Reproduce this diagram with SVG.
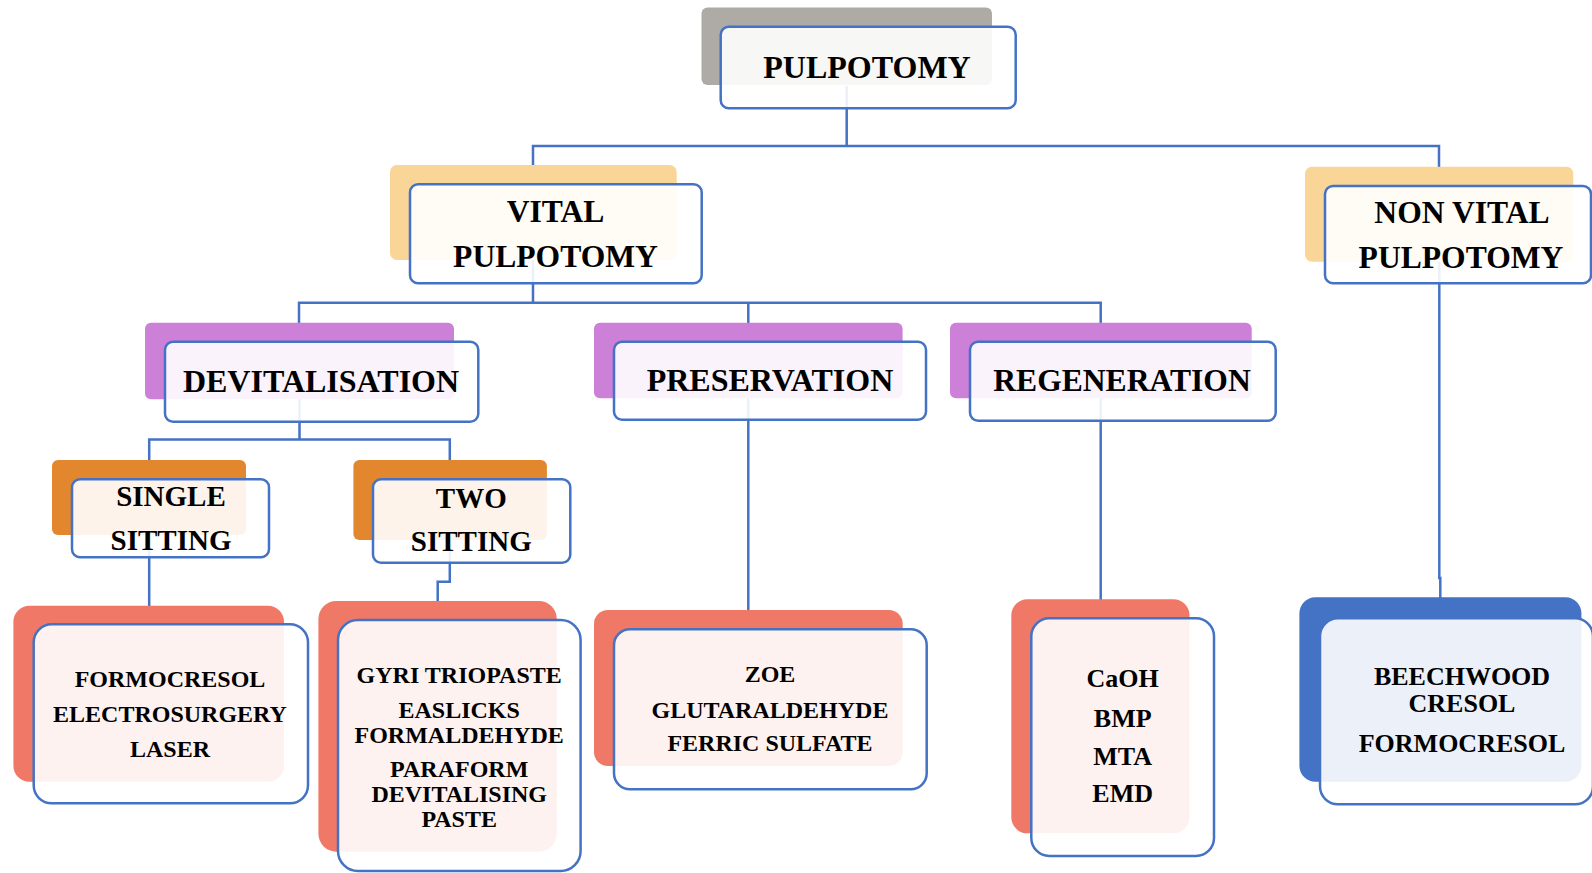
<svg xmlns="http://www.w3.org/2000/svg" width="1592" height="873" viewBox="0 0 1592 873">
<style>
.front{fill:#ffffff;fill-opacity:0.9;stroke:#4472C4;stroke-width:2.5}
.conn{fill:none;stroke:#4472C4;stroke-width:2.5}
.gray{fill:#AEABA7}
.yel{fill:#F9D598}
.pur{fill:#CC80D8}
.org{fill:#E3872F}
.sal{fill:#F07866}
.blu{fill:#4472C4}
text{font-family:"Liberation Serif","Times New Roman",serif;font-weight:bold;fill:#000;text-anchor:middle}
.t1{font-size:31.6px}
.t2{font-size:29px}
.t3{font-size:24px}
.t4{font-size:26px}
</style>
<rect width="1592" height="873" fill="#ffffff"/>
<g id="connectors">
<path class="conn" d="M846.7 86 V146 M533 165 V146 H1439 V168"/>
<path class="conn" d="M533 260 V302.7 M299 324 V302.7 H1100.7 V324 M748.3 302.7 V324"/>
<path class="conn" d="M299.5 399 V439.5 M149.2 462 V439.5 H449.8 V462"/>
<path class="conn" d="M149.2 535 V607"/>
<path class="conn" d="M449.8 540 V581.7 H437.7 V603"/>
<path class="conn" d="M748.3 398 V612"/>
<path class="conn" d="M1100.7 398 V601"/>
<path class="conn" d="M1439.3 262 V578 H1440.3 V599"/>
</g>
<g id="pulpotomy">
<rect class="gray" x="701.5" y="7.5" width="290.5" height="77.5" rx="6"/>
<rect class="front" x="720.7" y="26.7" width="295" height="81.6" rx="8"/>
<text class="t1" x="867" y="78" style="font-size:32px">PULPOTOMY</text>
</g>
<g id="vital">
<rect class="yel" x="390" y="165" width="286.7" height="95" rx="7"/>
<rect class="front" x="410" y="184.3" width="291.7" height="99" rx="8"/>
<text class="t1" x="555.5" y="221.7">VITAL</text>
<text class="t1" x="555.5" y="266.7">PULPOTOMY</text>
</g>
<g id="nonvital">
<rect class="yel" x="1305" y="166.7" width="268.3" height="95" rx="7"/>
<rect class="front" x="1325" y="186" width="266" height="97.3" rx="8"/>
<text class="t1" x="1462" y="222.7">NON VITAL</text>
<text class="t1" x="1461" y="268.3">PULPOTOMY</text>
</g>
<g id="devitalisation">
<rect class="pur" x="145" y="322.7" width="309" height="76.6" rx="6"/>
<rect class="front" x="165" y="341.7" width="313.3" height="80" rx="8"/>
<text class="t1" x="321" y="391.7" style="font-size:32px">DEVITALISATION</text>
</g>
<g id="preservation">
<rect class="pur" x="594" y="322.7" width="308.6" height="75.5" rx="6"/>
<rect class="front" x="614" y="341.7" width="312" height="78" rx="8"/>
<text class="t1" x="770" y="390.7" style="font-size:32px">PRESERVATION</text>
</g>
<g id="regeneration">
<rect class="pur" x="950" y="322.7" width="301.7" height="75.6" rx="6"/>
<rect class="front" x="970" y="341.7" width="305.7" height="79" rx="8"/>
<text class="t1" x="1122" y="390.7">REGENERATION</text>
</g>
<g id="single">
<rect class="org" x="52" y="460" width="194" height="75" rx="6"/>
<rect class="front" x="72" y="479.3" width="197" height="78" rx="8"/>
<text class="t2" x="171" y="506">SINGLE</text>
<text class="t2" x="171" y="550">SITTING</text>
</g>
<g id="two">
<rect class="org" x="353.4" y="460" width="193.5" height="80" rx="6"/>
<rect class="front" x="373" y="479.3" width="197.3" height="83.4" rx="8"/>
<text class="t2" x="471.3" y="508.3">TWO</text>
<text class="t2" x="471.3" y="550.7">SITTING</text>
</g>
<g id="single-leaf">
<rect class="sal" x="13.4" y="605.7" width="270.6" height="176" rx="16"/>
<rect class="front" x="33.7" y="624.3" width="274.3" height="179" rx="18"/>
<text class="t3" x="170" y="686.7">FORMOCRESOL</text>
<text class="t3" x="170" y="721.7">ELECTROSURGERY</text>
<text class="t3" x="170" y="756.7">LASER</text>
</g>
<g id="two-leaf">
<rect class="sal" x="318.4" y="601" width="238.4" height="250.7" rx="18"/>
<rect class="front" x="338" y="620" width="242.6" height="251" rx="20"/>
<text class="t3" x="459.2" y="682.7">GYRI TRIOPASTE</text>
<text class="t3" x="459.2" y="717.7">EASLICKS</text>
<text class="t3" x="459.2" y="742.7">FORMALDEHYDE</text>
<text class="t3" x="459.2" y="776.7">PARAFORM</text>
<text class="t3" x="459.2" y="801.7">DEVITALISING</text>
<text class="t3" x="459.2" y="826.7">PASTE</text>
</g>
<g id="preservation-leaf">
<rect class="sal" x="594" y="610" width="308.7" height="156" rx="14"/>
<rect class="front" x="614" y="629.3" width="312.7" height="160" rx="16"/>
<text class="t3" x="770" y="681.7">ZOE</text>
<text class="t3" x="770" y="717.7">GLUTARALDEHYDE</text>
<text class="t3" x="770" y="751">FERRIC SULFATE</text>
</g>
<g id="regeneration-leaf">
<rect class="sal" x="1011.3" y="599.3" width="178.2" height="234" rx="16"/>
<rect class="front" x="1031.3" y="618.3" width="182.7" height="237.7" rx="18"/>
<text class="t4" x="1122.7" y="687.3">CaOH</text>
<text class="t4" x="1122.7" y="726.7">BMP</text>
<text class="t4" x="1122.7" y="765">MTA</text>
<text class="t4" x="1122.7" y="802.3">EMD</text>
</g>
<g id="nonvital-leaf">
<rect class="blu" x="1299.4" y="597.3" width="282" height="184.4" rx="16"/>
<rect class="front" x="1320" y="618.3" width="273" height="186" rx="18"/>
<text class="t4" x="1462" y="685">BEECHWOOD</text>
<text class="t4" x="1462" y="711.7">CRESOL</text>
<text class="t4" x="1462" y="751.7">FORMOCRESOL</text>
</g>
</svg>
